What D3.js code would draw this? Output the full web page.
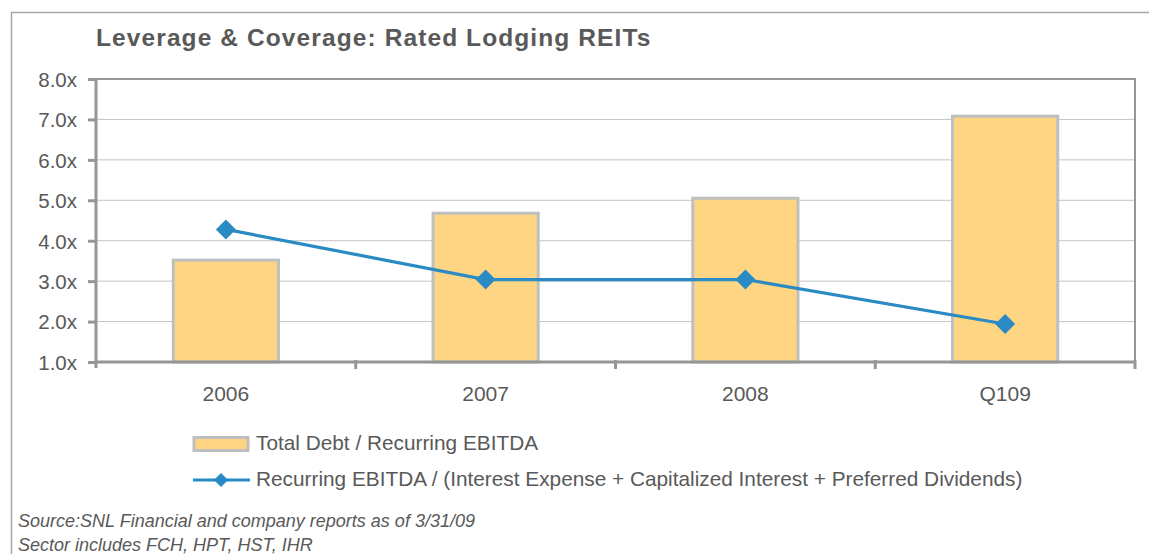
<!DOCTYPE html>
<html><head><meta charset="utf-8">
<script src="https://cdn.jsdelivr.net/npm/d3@7"></script>
<style>body{margin:0;background:#fff;} text{font-family:"Liberation Sans",Arial,sans-serif;}</style>
</head><body>
<svg id="chart" width="1149" height="554"></svg>
<script>
const categories = ["2006", "2007", "2008", "Q109"];
const debtToEbitda = [3.52, 4.68, 5.05, 7.08];
const coverage = [4.28, 3.04, 3.04, 1.94];
const yTicks = [1, 2, 3, 4, 5, 6, 7, 8];
const titleText = "Leverage & Coverage: Rated Lodging REITs";
const legendLabels = ["Total Debt / Recurring EBITDA", "Recurring EBITDA / (Interest Expense + Capitalized Interest + Preferred Dividends)"];
const notes = ["Source:SNL Financial and company reports as of 3/31/09", "Sector includes FCH, HPT, HST, IHR"];

const svg = d3.select("#chart");
const textCol = "#595959", axisCol = "#969696", gridCol = "#c4c4c4";
const barFill = "#fed583", barStroke = "#bfbfbf", lineCol = "#2a8ac4";
const L = 96, R = 1135, T = 79, B = 362;

// outer frame
svg.append("rect").attr("x", 11.5).attr("y", 12.5).attr("width", 1150).attr("height", 560)
  .attr("fill", "none").attr("stroke", "#a6a6a6").attr("stroke-width", 1.5);

svg.append("text").attr("x", 96).attr("y", 46).attr("font-size", 24.5).attr("font-weight", "bold")
  .attr("letter-spacing", 1.1).attr("fill", textCol).text(titleText);

const x = d3.scaleBand().domain(categories).range([L, R]);
const y = d3.scaleLinear().domain([1, 8]).range([B, T]);

// gridlines
svg.append("g").selectAll("line").data(yTicks.filter(d => d > 1 && d < 8)).join("line")
  .attr("x1", L).attr("x2", R).attr("y1", d => y(d)).attr("y2", d => y(d))
  .attr("stroke", gridCol).attr("stroke-width", 1);

// plot border top/right
svg.append("path").attr("d", `M${L},${y(8)}H${R}V${B}`).attr("fill", "none")
  .attr("stroke", axisCol).attr("stroke-width", 2);

// bars
const bw = x.bandwidth() * 0.405;
svg.append("g").selectAll("rect").data(debtToEbitda).join("rect")
  .attr("x", (d, i) => x(categories[i]) + x.bandwidth() / 2 - bw / 2)
  .attr("width", bw)
  .attr("y", d => y(d))
  .attr("height", d => y(1) - y(d))
  .attr("fill", barFill).attr("stroke", barStroke).attr("stroke-width", 3);

// y axis
const yAxis = d3.axisLeft(y).tickValues(yTicks).tickFormat(d => d3.format(".1f")(d) + "x").tickSize(8).tickPadding(11);
const gy = svg.append("g").attr("transform", `translate(${L},0)`).call(yAxis);
gy.select(".domain").attr("stroke", axisCol).attr("stroke-width", 3).attr("d", `M0,${T}V${B + 6}`);
gy.selectAll(".tick line").attr("stroke", axisCol).attr("stroke-width", 3);
gy.selectAll(".tick text").attr("fill", textCol).attr("font-size", 20.5).attr("dy", "0.36em")
  .attr("font-family", "Liberation Sans, Arial, sans-serif");

// x axis
const gx = svg.append("g").attr("transform", `translate(0,${B})`);
gx.append("line").attr("x1", L).attr("x2", R).attr("y1", 0).attr("y2", 0).attr("stroke", axisCol).attr("stroke-width", 3);
const bounds = categories.map(c => x(c) + x.bandwidth()).slice(0, -1).concat([R]);
gx.selectAll("line.tk").data(bounds).join("line").attr("class", "tk")
  .attr("x1", d => d).attr("x2", d => d).attr("y1", -2).attr("y2", 7)
  .attr("stroke", axisCol).attr("stroke-width", 3);
gx.selectAll("text").data(categories).join("text")
  .attr("x", d => x(d) + x.bandwidth() / 2).attr("y", 39).attr("text-anchor", "middle")
  .attr("font-size", 21).attr("fill", textCol).text(d => d);

// line
const line = d3.line().x((d, i) => x(categories[i]) + x.bandwidth() / 2).y(d => y(d));
svg.append("path").datum(coverage).attr("d", line).attr("fill", "none").attr("stroke", lineCol).attr("stroke-width", 3.2);
svg.append("g").selectAll("path").data(coverage).join("path")
  .attr("d", d3.symbol().type(d3.symbolSquare).size(200))
  .attr("transform", (d, i) => `translate(${x(categories[i]) + x.bandwidth() / 2},${y(d)}) rotate(45)`)
  .attr("fill", lineCol);

// legend
const lg = svg.append("g");
lg.append("rect").attr("x", 194).attr("y", 437.5).attr("width", 54).attr("height", 13)
  .attr("fill", barFill).attr("stroke", barStroke).attr("stroke-width", 3);
lg.append("text").attr("x", 256).attr("y", 450).attr("font-size", 20.8).attr("fill", textCol).text(legendLabels[0]);
lg.append("line").attr("x1", 193).attr("x2", 250).attr("y1", 480).attr("y2", 480).attr("stroke", lineCol).attr("stroke-width", 3.2);
lg.append("path").attr("d", d3.symbol().type(d3.symbolSquare).size(100)).attr("transform", "translate(221,480) rotate(45)").attr("fill", lineCol);
lg.append("text").attr("x", 256).attr("y", 486).attr("font-size", 20.8).attr("fill", textCol).text(legendLabels[1]);

// notes
svg.append("g").selectAll("text").data(notes).join("text")
  .attr("x", 18).attr("y", (d, i) => 527 + i * 23.5).attr("font-size", 18).attr("font-style", "italic")
  .attr("fill", textCol).text(d => d);
</script>
</body></html>
